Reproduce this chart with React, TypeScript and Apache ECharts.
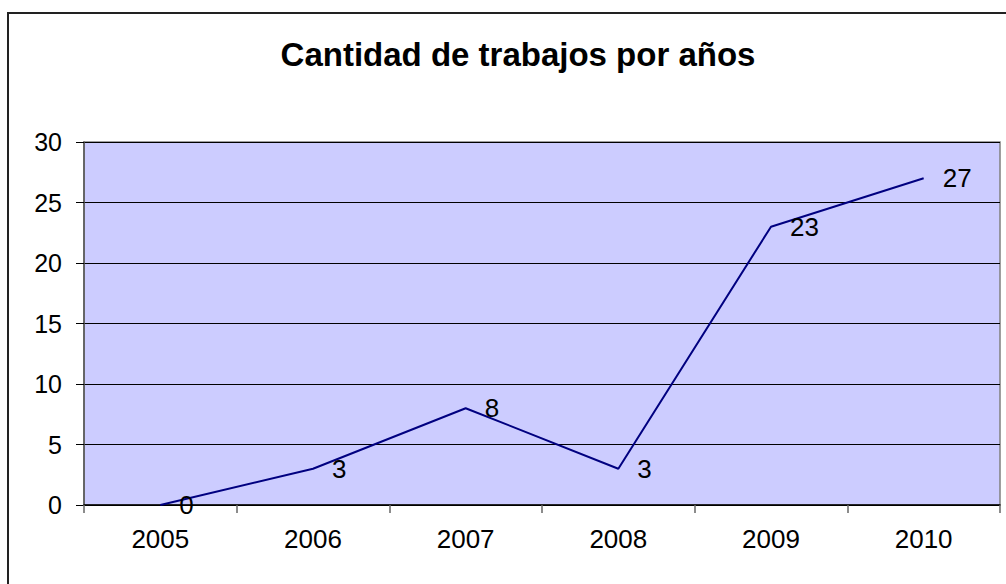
import React, { useEffect, useRef } from "react";
import * as echarts from "echarts";

const titleText = "Cantidad de trabajos por años";
const years = ["2005", "2006", "2007", "2008", "2009", "2010"];
const trabajos = [0, 3, 8, 3, 23, 27];
const yMin = 0;
const yMax = 30;
const yStep = 5;

const FONT = "'Liberation Sans', Arial, sans-serif";

export default function App() {
  const ref = useRef<HTMLDivElement>(null);
  useEffect(() => {
    document.body.style.margin = "0";
    const chart = echarts.init(ref.current!, undefined, { renderer: "svg" });
    chart.setOption({
      animation: false,
      backgroundColor: "#ffffff",
      title: {
        text: titleText,
        left: 513,
        top: 33,
        textAlign: "center",
        textStyle: { fontFamily: FONT, fontSize: 33, fontWeight: "bold", color: "#000" },
      },
      graphic: [
        {
          type: "rect",
          shape: { x: 8, y: 13, width: 1100, height: 700 },
          style: { fill: "none", stroke: "#222", lineWidth: 2 },
          silent: true,
        },
      ],
      grid: {
        left: 84,
        top: 142,
        right: 6,
        bottom: 79,
        show: true,
        backgroundColor: "#CCCCFF",
        borderColor: "#808080",
        borderWidth: 1.5,
      },
      xAxis: {
        type: "category",
        data: years,
        boundaryGap: true,
        axisLine: { show: true, lineStyle: { color: "#000", width: 1.5 } },
        axisTick: { show: true, length: 8, inside: false, lineStyle: { color: "#666", width: 1.5 } },
        axisLabel: { color: "#000", fontFamily: FONT, fontSize: 26, margin: 21 },
        splitLine: { show: false },
      },
      yAxis: {
        type: "value",
        min: yMin,
        max: yMax,
        interval: yStep,
        axisLine: { show: true, lineStyle: { color: "#555", width: 1.5 } },
        axisTick: { show: true, length: 8, inside: false, lineStyle: { color: "#000", width: 1 } },
        axisLabel: { color: "#000", fontFamily: FONT, fontSize: 25, margin: 22 },
        splitLine: { show: true, lineStyle: { color: "#000", width: 1 } },
      },
      series: [
        {
          type: "line",
          data: trabajos,
          showSymbol: true,
          symbol: "circle",
          symbolSize: 2,
          itemStyle: { color: "rgba(0,0,128,0)", borderWidth: 0 },
          lineStyle: { color: "#000080", width: 2 },
          label: {
            show: true,
            position: "right",
            distance: 18,
            color: "#000",
            fontFamily: FONT,
            fontSize: 26,
          },
        },
      ],
    });
    return () => chart.dispose();
  }, []);
  return <div ref={ref} style={{ width: 1006, height: 584 }} />;
}
